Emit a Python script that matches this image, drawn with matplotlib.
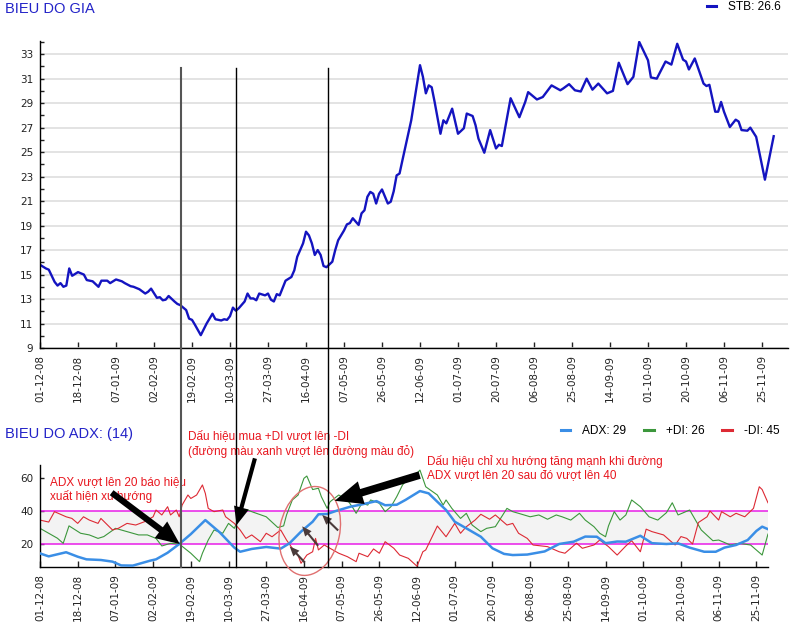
import matplotlib.pyplot as plt
import matplotlib.transforms as transforms
from matplotlib.lines import Line2D
from matplotlib.patches import Ellipse

# trading-day index of each tick and its date label
tick_days = [0, 13, 26, 39, 52, 65, 78, 91, 104, 117,
             130, 143, 156, 169, 182, 195, 208, 221, 234, 247]
tick_labels = ['01-12-08', '18-12-08', '07-01-09', '02-02-09', '19-02-09',
               '10-03-09', '27-03-09', '16-04-09', '07-05-09', '26-05-09',
               '12-06-09', '01-07-09', '20-07-09', '06-08-09', '25-08-09',
               '14-09-09', '01-10-09', '20-10-09', '06-11-09', '25-11-09']

# STB closing price (trading-day index, price)
price_day = [0, 2, 3, 5, 6, 7, 8, 9, 10, 11,
             13, 15, 16, 18, 20, 21, 23, 24, 26, 28,
             29, 31, 32, 34, 36, 37, 38, 40, 41, 42,
             43, 44, 46, 47, 48, 50, 51, 52, 53, 55,
             57, 59, 60, 62, 63, 64, 65, 66, 67, 68,
             70, 71, 72, 73, 74, 75, 77, 78, 79, 80,
             81, 82, 83, 84, 86, 87, 88, 90, 91, 92,
             93, 94, 95, 96, 97, 98, 100, 101, 102, 103,
             104, 105, 106, 107, 109, 110, 111, 112, 113, 114,
             115, 116, 117, 119, 120, 121, 122, 123, 124, 127,
             130, 131, 132, 133, 134, 135, 137, 138, 139, 141,
             143, 145, 146, 148, 149, 150, 152, 154, 156, 157,
             158, 161, 164, 166, 167, 170, 172, 175, 178, 179,
             181, 183, 185, 187, 189, 191, 194, 196, 198, 201,
             203, 205, 208, 209, 211, 214, 216, 218, 220, 221,
             222, 224, 227, 228, 229, 231, 232, 233, 234, 236,
             238, 239, 240, 242, 243, 245, 248, 251]
price_val = [15.8, 15.5, 15.4, 14.4, 14.1, 14.3, 14.0, 14.1, 15.5, 14.9,
             15.2, 15.0, 14.55, 14.45, 14.0, 14.5, 14.5, 14.3, 14.6, 14.45,
             14.3, 14.05, 14.0, 13.8, 13.45, 13.6, 13.85, 13.1, 13.15, 12.9,
             12.95, 13.25, 12.8, 12.6, 12.5, 12.1, 11.4, 11.3, 10.9, 10.05,
             11.0, 11.8, 11.35, 11.25, 11.35, 11.3, 11.6, 12.3, 12.05, 12.25,
             12.8, 13.45, 13.05, 13.05, 12.9, 13.45, 13.3, 13.45, 12.95, 12.8,
             13.4, 13.3, 13.9, 14.5, 14.8, 15.35, 16.45, 17.55, 18.5, 18.2,
             17.55, 16.6, 17.0, 16.6, 15.7, 15.6, 16.05, 17.0, 17.8, 18.2,
             18.6, 19.1, 19.2, 19.6, 19.05, 20.0, 20.25, 21.35, 21.75, 21.6,
             20.8, 21.6, 21.95, 20.8, 20.95, 21.8, 23.1, 23.25, 24.35, 27.6,
             32.1, 31.15, 29.8, 30.45, 30.3, 29.1, 26.5, 27.6, 27.35, 28.55,
             26.5, 26.95, 28.15, 27.95, 27.2, 26.1, 24.95, 26.8, 25.3, 25.6,
             25.5, 29.4, 27.85, 29.1, 29.9, 29.3, 29.5, 30.45, 30.05, 30.2,
             30.55, 30.05, 29.95, 31.0, 30.1, 30.6, 29.8, 30.0, 32.3, 30.55,
             31.15, 34.0, 32.5, 31.1, 31.0, 32.4, 32.15, 33.85, 32.55, 32.4,
             31.75, 32.65, 30.6, 30.4, 30.5, 28.3, 28.3, 29.1, 28.3, 27.05,
             27.65, 27.5, 26.8, 26.75, 27.0, 26.25, 22.75, 26.3]

# ADX(14)
adx_day = [0, 3, 9, 13, 16, 21, 25, 28, 32, 34,
           38, 40, 44, 48, 52, 57, 62, 67, 69, 73,
           78, 83, 86, 90, 94, 96, 99, 102, 107, 111,
           116, 119, 123, 126, 131, 134, 137, 140, 143, 147,
           152, 156, 160, 163, 168, 174, 179, 184, 188, 192,
           195, 199, 202, 207, 211, 216, 220, 224, 229, 233,
           236, 240, 244, 247, 249, 251]
adx_val = [14.3, 12.5, 15.0, 12.3, 10.7, 10.3, 9.3, 7.0, 6.9, 7.9,
           9.9, 10.7, 14.7, 20.0, 26.0, 34.5, 27.0, 17.8, 15.3, 17.0,
           18.2, 17.2, 20.4, 27.5, 33.5, 38.0, 38.2, 40.0, 42.6, 44.0,
           46.0, 43.5, 43.8, 46.7, 52.1, 50.7, 45.6, 40.6, 33.5, 29.5,
           24.4, 17.4, 14.0, 13.3, 13.6, 15.5, 20.0, 21.4, 24.5, 24.4,
           20.5, 21.5, 21.4, 25.0, 20.5, 20.0, 20.4, 17.8, 15.3, 15.3,
           17.8, 19.4, 22.4, 27.9, 30.5, 29.0]

# +DI
pdi_day = [0, 3, 6, 8, 10, 14, 17, 20, 22, 26,
           30, 34, 37, 40, 42, 45, 48, 52, 55, 56,
           58, 60, 63, 65, 67, 69, 71, 73, 78, 82,
           84, 85, 87, 89, 91, 92, 94, 96, 97, 99,
           100, 103, 106, 108, 109, 111, 113, 114, 117, 119,
           121, 123, 125, 126, 129, 131, 133, 137, 139, 140,
           142, 145, 147, 149, 152, 154, 157, 161, 163, 165,
           169, 172, 175, 178, 180, 183, 186, 188, 191, 193,
           195, 196, 198, 200, 202, 204, 207, 210, 213, 216,
           218, 220, 224, 226, 228, 232, 234, 238, 241, 245,
           249, 251]
pdi_val = [29.5, 26.5, 23.5, 20.4, 31.0, 26.5, 25.5, 23.4, 24.5, 29.5,
           27.5, 25.5, 25.5, 23.4, 18.8, 20.4, 20.0, 14.4, 9.3, 14.4,
           22.4, 28.5, 26.5, 32.5, 29.5, 37.6, 41.0, 39.6, 36.5, 30.0,
           31.0, 37.6, 46.7, 49.7, 59.8, 61.2, 53.0, 53.8, 48.7, 41.6,
           45.6, 49.7, 46.7, 41.6, 38.6, 44.7, 43.6, 46.7, 44.7, 39.6,
           42.6, 48.7, 55.8, 57.8, 60.8, 64.8, 54.7, 49.7, 43.6, 46.7,
           41.6, 35.5, 38.6, 31.5, 27.5, 29.5, 30.5, 41.6, 39.6, 38.6,
           36.5, 37.6, 35.0, 37.6, 36.5, 34.5, 38.6, 34.5, 30.5, 26.5,
           24.4, 30.9, 39.6, 34.5, 37.6, 46.7, 42.6, 36.5, 34.5, 39.0,
           45.0, 37.6, 40.6, 34.5, 28.5, 22.0, 22.4, 19.4, 20.4, 19.4,
           13.3, 26.0]

# -DI
mdi_day = [0, 3, 5, 9, 11, 13, 15, 17, 20, 21,
           25, 27, 30, 33, 36, 39, 40, 42, 44, 45,
           47, 48, 49, 51, 52, 54, 56, 57, 58, 60,
           63, 64, 67, 69, 71, 73, 76, 78, 80, 83,
           85, 87, 89, 90, 92, 94, 95, 96, 98, 100,
           103, 106, 109, 110, 113, 115, 117, 119, 122, 124,
           127, 130, 132, 133, 134, 137, 140, 143, 145, 147,
           150, 152, 155, 157, 161, 163, 165, 168, 170, 175,
           179, 181, 185, 187, 191, 193, 196, 199, 202, 204,
           207, 209, 211, 215, 217, 219, 221, 223, 225, 227,
           230, 231, 234, 235, 238, 240, 243, 246, 248, 249,
           251]
mdi_val = [34.5, 33.3, 39.6, 36.5, 35.5, 32.5, 36.5, 34.5, 32.5, 35.5,
           28.5, 29.5, 32.5, 31.5, 33.5, 36.5, 40.6, 37.6, 42.6, 37.6,
           40.6, 36.5, 43.6, 49.7, 47.6, 49.7, 55.8, 50.7, 41.6, 39.6,
           40.6, 36.5, 32.5, 28.5, 23.4, 25.5, 21.4, 26.5, 24.4, 28.5,
           22.4, 17.4, 13.0, 8.3, 13.3, 15.3, 23.4, 16.4, 19.4, 17.4,
           14.4, 12.3, 9.3, 14.4, 12.3, 17.0, 14.4, 21.4, 17.4, 13.3,
           11.3, 6.5, 15.3, 16.4, 20.0, 30.9, 24.4, 32.5, 26.5, 30.5,
           34.5, 38.0, 35.0, 37.6, 31.5, 32.5, 26.5, 23.4, 19.4, 18.4,
           15.3, 14.4, 20.5, 17.4, 19.4, 22.4, 18.4, 13.3, 18.8, 22.0,
           15.3, 29.0, 27.5, 25.5, 22.4, 19.4, 24.5, 23.4, 20.0, 33.0,
           36.5, 40.0, 34.5, 39.6, 36.5, 38.6, 36.5, 41.6, 54.7, 53.0,
           45.0]

# dates of the three signals marked with vertical lines
signal_days = [48.2, 67.2, 98.4]

TITLE_BLUE = '#2323c8'
RED_TXT = '#e8161e'
TXT_FONT = 'Liberation Sans'

fig = plt.figure(figsize=(8.05, 6.36), dpi=100)
ax1 = fig.add_axes([0.0497, 0.4528, 0.9292, 0.4832])
ax2 = fig.add_axes([0.0497, 0.1085, 0.9043, 0.1604])


def style_axes(ax):
    for s in ['top', 'right']:
        ax.spines[s].set_visible(False)
    for s in ['left', 'bottom']:
        ax.spines[s].set_linewidth(1.0)
    ax.set_xticks(tick_days)
    ax.set_xticklabels(tick_labels, rotation=90)
    ax.tick_params(axis='x', direction='in', length=4, width=1, pad=5,
                   labelsize=7.5, colors='#222222')
    ax.tick_params(axis='y', which='both', direction='in', length=3,
                   width=1, pad=5, labelsize=7.5, colors='#222222')
    ax.set_axisbelow(True)


# ---- price panel ----
price_line, = ax1.plot(price_day, price_val, color='#1414c0', lw=1.7)
ax1.set_xlim(0, 255.9)
ax1.set_ylim(9, 34.1)
ax1.set_yticks(range(9, 34, 2))
ax1.set_yticks(range(10, 35, 2), minor=True)
ax1.yaxis.grid(True, which='major', color='#dedede', lw=1.2)
style_axes(ax1)
leg1 = ax1.legend([price_line], ['STB: 26.6'], loc='upper right',
                  bbox_to_anchor=(0.97, 0.998), bbox_transform=fig.transFigure,
                  frameon=False, handlelength=0.8, handletextpad=1.0,
                  borderpad=0, borderaxespad=0,
                  prop={'family': TXT_FONT, 'size': 8.6})
for h in leg1.legend_handles:
    h.set_linewidth(2.2)

# ---- ADX panel ----
ax2.axhspan(20, 40, color='#f3f3f3', lw=0, zorder=0)
ax2.axhline(20, color='#e81ee8', lw=1.1, zorder=1)
ax2.axhline(40, color='#e81ee8', lw=1.1, zorder=1)
l_pdi, = ax2.plot(pdi_day, pdi_val, color='#3c973c', lw=0.8, zorder=2)
l_mdi, = ax2.plot(mdi_day, mdi_val, color='#dd2a34', lw=0.8, zorder=2)
l_adx, = ax2.plot(adx_day, adx_val, color='#3a8ee6', lw=1.8, zorder=3)
ax2.set_xlim(0, 251)
ax2.set_ylim(6.06, 67.9)
ax2.set_yticks([20, 40, 60])
style_axes(ax2)
leg2 = ax2.legend([l_adx, l_pdi, l_mdi], ['ADX: 29', '+DI: 26', '-DI: 45'],
                  loc='upper right', ncol=3, bbox_to_anchor=(0.968, 0.332),
                  bbox_transform=fig.transFigure, frameon=False,
                  handlelength=0.8, handletextpad=1.0, columnspacing=1.5,
                  borderpad=0, borderaxespad=0,
                  prop={'family': TXT_FONT, 'size': 8.6})
for h in leg2.legend_handles:
    h.set_linewidth(2.2)

# titles
fig.text(5 / 805, 1 - 9 / 636, 'BIEU DO GIA', ha='left', va='center',
         color=TITLE_BLUE, fontsize=10.5, family=TXT_FONT)
fig.text(5 / 805, 1 - 434 / 636, 'BIEU DO ADX: (14)', ha='left', va='center',
         color=TITLE_BLUE, fontsize=10.5, family=TXT_FONT)

# vertical signal lines crossing both panels
vtrans = transforms.blended_transform_factory(ax1.transData, fig.transFigure)
for d, c, w in zip(signal_days, ['#555555', 'black', 'black'], [1.5, 1.0, 1.0]):
    fig.add_artist(Line2D([d, d], [1 - 68 / 636, 1 - 567 / 636],
                          transform=vtrans, color=c, lw=w, zorder=5))

# annotations
ax2.text(3.4, 52.9, 'ADX vượt lên 20 báo hiệu\nxuất hiện xu hướng',
         color=RED_TXT, fontsize=8.5, family=TXT_FONT, ha='left',
         va='center', linespacing=1.2, zorder=6)
ax2.text(51.0, 80.6, 'Dấu hiệu mua +DI vượt lên -DI\n'
         '(đường màu xanh vượt lên đường màu đỏ)',
         color=RED_TXT, fontsize=8.5, family=TXT_FONT, ha='left',
         va='center', linespacing=1.3, zorder=6)
ax2.text(133.3, 66.1, 'Dấu hiệu chỉ xu hướng tăng mạnh khi đường\n'
         'ADX vượt lên 20 sau đó vượt lên 40',
         color=RED_TXT, fontsize=8.5, family=TXT_FONT, ha='left',
         va='center', linespacing=1.2, zorder=6)


def arrow(tail, tip, tw, hw, hl, color='black'):
    style = 'simple,head_length=%s,head_width=%s,tail_width=%s' % (hl, hw, tw)
    ax2.annotate('', xy=tip, xytext=tail, annotation_clip=False, zorder=7,
                 arrowprops=dict(arrowstyle=style, color=color, lw=0,
                                 mutation_scale=1, shrinkA=0, shrinkB=0))


arrow((24.7, 51.1), (48.2, 20.0), 4.5, 15, 17)
arrow((74.1, 71.9), (67.8, 31.5), 3.0, 11, 13)
arrow((130.9, 61.8), (101.6, 46.2), 5.5, 17, 20)
arrow((91.3, 8.8), (86.1, 18.5), 1.5, 6, 7, color='#4a3a3a')
arrow((95.9, 18.9), (90.4, 30.7), 1.5, 6, 7, color='#4a3a3a')
arrow((102.8, 28.2), (97.3, 37.6), 1.5, 6, 7, color='#4a3a3a')

ell_tr = fig.dpi_scale_trans + transforms.ScaledTranslation(93.0, 27.9, ax2.transData)
ax2.add_patch(Ellipse((0, 0), 0.60, 0.90, angle=-12, transform=ell_tr,
                      fill=False, edgecolor='#e07070', lw=1.0,
                      clip_on=False, zorder=6))

fig.savefig('out.png', dpi=100)
